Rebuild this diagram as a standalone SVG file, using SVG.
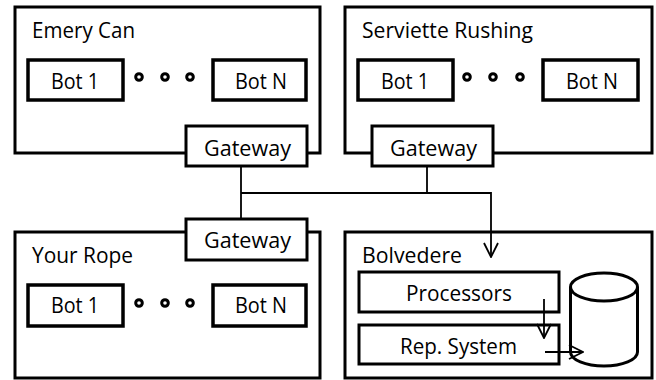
<svg xmlns="http://www.w3.org/2000/svg" width="656" height="380" viewBox="0 0 656 380">
<style>
.box{fill:#fff;stroke:#000;stroke-width:3}
.bot{fill:#fff;stroke:#000;stroke-width:3.5}
.t{font-family:"Open Sans","Liberation Sans",sans-serif;font-size:21px;fill:#000}
.dot{fill:#fff;stroke:#000;stroke-width:3}
.ln{fill:none;stroke:#000;stroke-width:1.8}
</style>
<defs>
<marker id="ah" viewBox="0 0 16 16" refX="15" refY="8" markerWidth="16" markerHeight="16" markerUnits="userSpaceOnUse" orient="auto">
<path d="M1,1 L15,8 L1,15" fill="none" stroke="#000" stroke-width="1.8"/>
</marker>
</defs>
<rect width="656" height="380" fill="#fff"/>
<g id="emery-can">
<rect class="box" x="15" y="7" width="305" height="146"/>
<text class="t" x="32" y="38" textLength="103" lengthAdjust="spacingAndGlyphs">Emery Can</text>
<g id="ec-bot1"><rect class="bot" x="28" y="60" width="95" height="40"/><text class="t" x="51" y="89" textLength="48" lengthAdjust="spacingAndGlyphs">Bot 1</text></g>
<circle class="dot" cx="139" cy="77" r="3.3"/><circle class="dot" cx="165" cy="77" r="3.3"/><circle class="dot" cx="190" cy="77" r="3.3"/>
<g id="ec-botn"><rect class="bot" x="213" y="60" width="93" height="40"/><text class="t" x="235" y="89" textLength="52" lengthAdjust="spacingAndGlyphs">Bot N</text></g>
<g id="ec-gateway"><rect class="box" x="186" y="126" width="121" height="40"/><text class="t" x="204" y="156" textLength="87" lengthAdjust="spacingAndGlyphs">Gateway</text></g>
</g>
<g id="serviette-rushing">
<rect class="box" x="345" y="7" width="307" height="146"/>
<text class="t" x="362" y="38" textLength="171" lengthAdjust="spacingAndGlyphs">Serviette Rushing</text>
<g id="sr-bot1"><rect class="bot" x="358" y="60" width="95" height="40"/><text class="t" x="381" y="89" textLength="48" lengthAdjust="spacingAndGlyphs">Bot 1</text></g>
<circle class="dot" cx="467" cy="77" r="3.3"/><circle class="dot" cx="493" cy="77" r="3.3"/><circle class="dot" cx="520" cy="77" r="3.3"/>
<g id="sr-botn"><rect class="bot" x="543" y="60" width="95" height="40"/><text class="t" x="566" y="89" textLength="52" lengthAdjust="spacingAndGlyphs">Bot N</text></g>
<g id="sr-gateway"><rect class="box" x="372" y="126" width="121" height="40"/><text class="t" x="390" y="156" textLength="87" lengthAdjust="spacingAndGlyphs">Gateway</text></g>
</g>
<g id="your-rope">
<rect class="box" x="15" y="232" width="305" height="146"/>
<text class="t" x="32" y="263" textLength="101" lengthAdjust="spacingAndGlyphs">Your Rope</text>
<g id="yr-bot1"><rect class="bot" x="28" y="285" width="95" height="41"/><text class="t" x="51" y="313" textLength="48" lengthAdjust="spacingAndGlyphs">Bot 1</text></g>
<circle class="dot" cx="139" cy="303" r="3.3"/><circle class="dot" cx="165" cy="303" r="3.3"/><circle class="dot" cx="190" cy="303" r="3.3"/>
<g id="yr-botn"><rect class="bot" x="213" y="285" width="93" height="41"/><text class="t" x="235" y="313" textLength="52" lengthAdjust="spacingAndGlyphs">Bot N</text></g>
<g id="yr-gateway"><rect class="box" x="186" y="219" width="121" height="41"/><text class="t" x="204" y="248" textLength="87" lengthAdjust="spacingAndGlyphs">Gateway</text></g>
</g>
<g id="bolvedere">
<rect class="box" x="345" y="232" width="307" height="146"/>
<text class="t" x="362" y="263" textLength="100" lengthAdjust="spacingAndGlyphs">Bolvedere</text>
<g id="processors"><rect class="box" x="359" y="272" width="200" height="40"/><text class="t" x="406" y="301" textLength="106" lengthAdjust="spacingAndGlyphs">Processors</text></g>
<g id="rep-system"><rect class="box" x="359" y="325" width="200" height="39"/><text class="t" x="400" y="354" textLength="117" lengthAdjust="spacingAndGlyphs">Rep. System</text></g>
<g id="database">
<path class="box" d="M570.5,287 L570.5,352 A33.5,14 0 0 0 637.5,352 L637.5,287"/>
<ellipse class="box" cx="604" cy="287" rx="33.5" ry="14"/>
</g>
</g>
<g id="connectors">
<path class="ln" d="M241,166 L241,219"/>
<path class="ln" d="M427,166 L427,193"/>
<path class="ln" d="M241,193 L491,193 L491,257" marker-end="url(#ah)"/>
<path class="ln" d="M544,299 L544,338" marker-end="url(#ah)"/>
<path class="ln" d="M545,352 L583,352" marker-end="url(#ah)"/>
</g>
</svg>
